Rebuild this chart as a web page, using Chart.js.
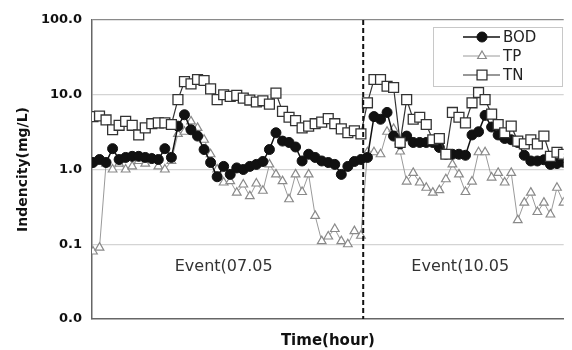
<!DOCTYPE html>
<html>
<head>
<meta charset="utf-8">
<script src="https://cdn.jsdelivr.net/npm/chart.js@4/dist/chart.umd.min.js"></script>
<style>
  html, body { margin: 0; padding: 0; background: #fff; }
  #wrap { width: 572px; height: 350px; }
</style>
</head>
<body>
<div id="wrap"><canvas id="chart" width="572" height="350"></canvas></div>
<script>
// values, one per hour step
const bod = [1.24, 1.36, 1.24, 1.9, 1.36, 1.45, 1.5, 1.5, 1.45, 1.4, 1.36, 1.9, 1.45, 3.8, 5.4, 3.4, 2.8, 1.85, 1.24, 0.8,
    1.1, 0.86, 1.05, 1.0, 1.1, 1.17, 1.28, 1.85, 3.1, 2.4, 2.3, 2.0, 1.3, 1.6, 1.45, 1.3, 1.24, 1.17, 0.86, 1.1,
    1.28, 1.36, 1.45, 5.1, 4.7, 5.8, 2.8, 2.2, 2.8, 2.3, 2.3, 2.3, 2.3, 1.97, 1.6, 1.6, 1.6, 1.55, 2.9, 3.2,
    5.3, 3.7, 2.9, 2.6, 2.5, 2.3, 1.55, 1.3, 1.3, 1.35, 1.17, 1.2, 1.25];
const tp = [0.08, 0.09, 1.2, 1.0, 1.2, 1.0, 1.1, 1.3, 1.2, 1.4, 1.1, 1.0, 1.3, 3.0, 3.2, 4.4, 3.6, 2.5, 1.6, 1.0,
    0.67, 0.7, 0.49, 0.63, 0.44, 0.65, 0.52, 1.17, 0.86, 0.7, 0.4, 0.86, 0.5, 0.86, 0.24, 0.11, 0.127, 0.16, 0.11, 0.1,
    0.15, 0.13, 1.7, 1.7, 1.6, 3.2, 3.5, 1.74, 0.69, 0.9, 0.67, 0.57, 0.49, 0.53, 0.74, 1.17, 0.86, 0.5, 0.69, 1.7,
    1.7, 0.78, 0.9, 0.67, 0.9, 0.21, 0.36, 0.49, 0.27, 0.36, 0.25, 0.57, 0.36];
const tn = [5.1, 5.2, 4.6, 3.4, 3.9, 4.4, 3.9, 2.9, 3.6, 4.1, 4.2, 4.2, 4.0, 8.6, 15, 14, 16, 15.5, 12, 8.6,
    10, 9.5, 9.8, 9, 8.5, 8.0, 8.3, 7.5, 10.5, 6, 5, 4.5, 3.6, 3.8, 4.1, 4.3, 4.8, 4.1, 3.5, 3.1,
    3.3, 3.0, 7.8, 16, 16, 13, 12.5, 2.3, 8.6, 4.7, 5, 4, 2.5, 2.6, 1.6, 5.8, 5, 4.2, 7.8, 10.7,
    8.6, 5.5, 4.0, 3.1, 3.8, 2.4, 2.2, 2.5, 2.2, 2.8, 1.5, 1.7, 1.6];

const yTicks = [0.01, 0.1, 1, 10, 100];
const yTickLabels = ['0.0', '0.1', '1.0', '10.0', '100.0'];
const events = ['Event(07.05', 'Event(10.05'];
const eventLabelAt = [20, 56.2];
const eventLineAt = 41.35;

function toPoints(arr) {
    return arr.map(function(v, i) { return { x: i, y: v }; });
}

// dashed event divider, event captions and the boxed legend
const extras = {
    id: 'extras',
    afterDatasetsDraw(chart) {
        const ctx = chart.ctx;
        const xs = chart.scales.x;
        const area = chart.chartArea;
        ctx.save();

        const lx = xs.getPixelForValue(eventLineAt);
        ctx.strokeStyle = '#111';
        ctx.lineWidth = 2;
        ctx.setLineDash([5, 3]);
        ctx.beginPath();
        ctx.moveTo(lx, area.top);
        ctx.lineTo(lx, area.bottom);
        ctx.stroke();
        ctx.setLineDash([]);

        ctx.fillStyle = '#333';
        ctx.font = '16px "DejaVu Sans"';
        ctx.textAlign = 'center';
        ctx.textBaseline = 'middle';
        events.forEach(function(t, k) {
            ctx.fillText(t, xs.getPixelForValue(eventLabelAt[k]), 267);
        });

        // legend
        ctx.fillStyle = '#fff';
        ctx.fillRect(433, 27, 129, 59);
        ctx.strokeStyle = '#c8c8c8';
        ctx.lineWidth = 1;
        ctx.strokeRect(433.5, 27.5, 129, 59);
        const rows = [
            { name: 'BOD', y: 37, ds: 0 },
            { name: 'TP', y: 56, ds: 1 },
            { name: 'TN', y: 75, ds: 2 }
        ];
        ctx.font = '15px "DejaVu Sans"';
        ctx.textAlign = 'left';
        rows.forEach(function(r) {
            const d = chart.data.datasets[r.ds];
            ctx.strokeStyle = d.borderColor;
            ctx.lineWidth = d.borderWidth;
            ctx.beginPath();
            ctx.moveTo(463, r.y);
            ctx.lineTo(500, r.y);
            ctx.stroke();
            ctx.fillStyle = d.pointBackgroundColor;
            ctx.strokeStyle = d.pointBorderColor;
            ctx.lineWidth = d.pointBorderWidth;
            Chart.helpers.drawPoint(ctx, { pointStyle: d.pointStyle, radius: d.pointRadius, borderWidth: d.pointBorderWidth }, 482, r.y);
            ctx.fillStyle = '#222';
            ctx.fillText(r.name, 503, r.y + 1);
        });
        ctx.restore();
    }
};

const ctx = document.getElementById('chart').getContext('2d');
new Chart(ctx, {
    type: 'line',
    data: {
        datasets: [
            {
                label: 'BOD',
                data: toPoints(bod),
                borderColor: '#111',
                borderWidth: 1.5,
                pointStyle: 'circle',
                pointRadius: 5,
                pointBackgroundColor: '#111',
                pointBorderColor: '#111',
                pointBorderWidth: 1,
                order: 2
            },
            {
                label: 'TP',
                data: toPoints(tp),
                borderColor: '#9a9a9a',
                borderWidth: 1,
                pointStyle: 'triangle',
                pointRadius: 5,
                pointBackgroundColor: '#fff',
                pointBorderColor: '#8a8a8a',
                pointBorderWidth: 1.2,
                order: 3
            },
            {
                label: 'TN',
                data: toPoints(tn),
                borderColor: '#333',
                borderWidth: 1.2,
                pointStyle: 'rect',
                pointRadius: 7,
                pointBackgroundColor: '#fff',
                pointBorderColor: '#333',
                pointBorderWidth: 1.3,
                order: 1
            }
        ]
    },
    options: {
        responsive: false,
        animation: false,
        layout: { padding: { top: 20, right: 0, bottom: 0, left: 0 } },
        plugins: {
            legend: { display: false },
            tooltip: { enabled: false }
        },
        scales: {
            x: {
                type: 'linear',
                min: -0.15,
                max: 72.03,
                ticks: { display: false },
                grid: { display: false },
                border: { display: true, color: '#666', width: 1.5 },
                title: {
                    display: true,
                    text: 'Time(hour)',
                    color: '#111',
                    font: { family: 'DejaVu Sans', size: 15, weight: 'bold' },
                    padding: { top: 0, bottom: 0 }
                },
                afterFit(scale) { scale.height = 31; }
            },
            y: {
                type: 'logarithmic',
                min: 0.01,
                max: 100,
                afterBuildTicks(scale) {
                    scale.ticks = yTicks.map(function(v) { return { value: v }; });
                },
                ticks: {
                    padding: 10,
                    color: '#111',
                    font: { family: 'DejaVu Sans', size: 13, weight: 'bold' },
                    callback: function(v) {
                        const k = yTicks.indexOf(v);
                        return k >= 0 ? yTickLabels[k] : '';
                    }
                },
                grid: {
                    drawTicks: false,
                    color: function(c) {
                        const v = c.tick && c.tick.value;
                        if (v === 100) return '#8a8a8a';
                        if (v === 0.01) return 'rgba(0,0,0,0)';
                        return '#d4d4d4';
                    },
                    lineWidth: 1.2
                },
                border: { display: true, color: '#666', width: 1.5 },
                title: {
                    display: true,
                    text: 'Indencity(mg/L)',
                    color: '#111',
                    font: { family: 'DejaVu Sans', size: 14, weight: 'bold' },
                    padding: { top: 15, bottom: 0 }
                },
                afterFit(scale) { scale.width = 92; }
            }
        }
    },
    plugins: [extras]
});
</script>
</body>
</html>
